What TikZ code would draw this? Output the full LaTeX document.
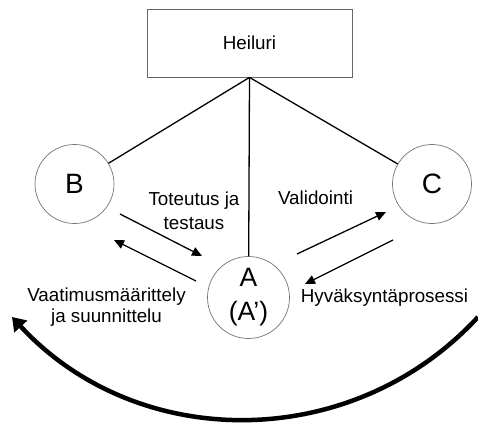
\documentclass[tikz,border=0pt]{standalone}
\usepackage{fontspec}
\setmainfont{Liberation Sans}
\usetikzlibrary{arrows.meta}
\begin{document}
\begin{tikzpicture}[x=1pt,y=-1pt,
  lbl/.style={font=\fontsize{18.8}{20.5}\selectfont, inner sep=0pt, align=center},
  state/.style={circle, draw=black!55, line width=0.7pt, minimum size=79pt, inner sep=0pt},
  link/.style={line width=1.3pt},
  flow/.style={line width=1.3pt, -{Triangle[length=10pt,width=9pt]}},
  swing/.style={line width=4.5pt, -{Triangle[length=13pt,width=17pt]}}]
\useasboundingbox (0,0) rectangle (478,425);
\node[draw=black!60, line width=0.8pt, minimum width=205pt, minimum height=68pt, inner sep=0pt,
      font=\fontsize{18.8}{22}\selectfont] (heiluri) at (249.5,43) {Heiluri};
\node[state, font=\fontsize{28}{30}\selectfont] (B) at (74.5,184) {B};
\node[state, font=\fontsize{28}{30}\selectfont] (C) at (432,184) {C};
\node[state, minimum size=82pt, align=center, font=\fontsize{26.5}{34}\selectfont] (A) at (248.5,297.5) {A\\(A’)};
\draw[link] (heiluri.south) -- (B);
\draw[link] (heiluri.south) -- (C);
\draw[link] (heiluri.south) -- (A);
% labels
\node[lbl, font=\fontsize{18.8}{23.5}\selectfont] (tt) at (194,211) {Toteutus ja\\testaus};
\node[lbl, anchor=base] (val) at (315.5,204) {Validointi};
\node[lbl] (vm) at (106.5,307) {Vaatimusmäärittely\\ja suunnittelu};
\node[lbl, anchor=base] (hy) at (384.5,302) {Hyväksyntäprosessi};
% small arrows
\coordinate (t1) at (120,214); \coordinate (t2) at (202,256);
\coordinate (v1) at (196,281); \coordinate (v2) at (114,240);
\coordinate (va1) at (297,254); \coordinate (va2) at (386,212);
\coordinate (h1) at (393,240); \coordinate (h2) at (305,284);
\draw[flow] (t1) -- (t2);
\draw[flow] (v1) -- (v2);
\draw[flow] (va1) -- (va2);
\draw[flow] (h1) -- (h2);
% big swing arrow
\coordinate (s1) at (478,317); \coordinate (s2) at (12,317);
\draw[swing] (s1) .. controls (352.5,453) and (137.5,453) .. (s2);
\end{tikzpicture}
\end{document}
